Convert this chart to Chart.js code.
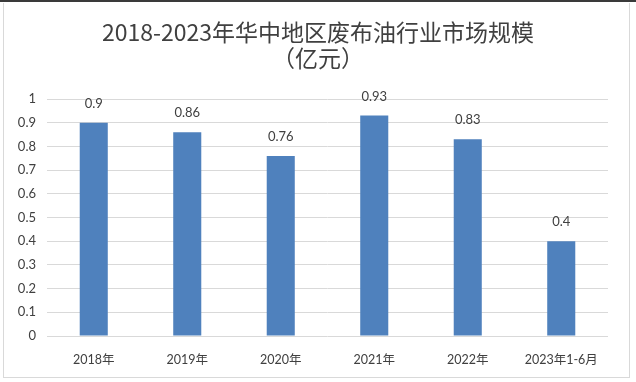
<!DOCTYPE html>
<html>
<head>
<meta charset="utf-8">
<script src="https://cdn.jsdelivr.net/npm/chart.js@4/dist/chart.umd.min.js"></script>
<style>
  html, body { margin: 0; padding: 0; background: #fff; }
  #wrap { position: relative; width: 636px; height: 382px; overflow: hidden; background: #fff; }
  #topline { position: absolute; left: 0; top: 0; width: 636px; height: 2px; background: #3a3a3a; }
  #frame { position: absolute; left: 3px; top: 3px; width: 627px; height: 375px; border: 1px solid #d9d9d9; box-sizing: border-box; border-top: none; }
  canvas { position: absolute; left: 0; top: 0; }
</style>
</head>
<body>
<div id="wrap">
  <canvas id="c" width="636" height="382"></canvas>
  <div id="topline"></div>
  <div id="frame"></div>
</div>
<script>
const categories = ['2018年', '2019年', '2020年', '2021年', '2022年', '2023年1-6月'];
const values = [0.9, 0.86, 0.76, 0.93, 0.83, 0.4];
const yTicks = [0, 0.1, 0.2, 0.3, 0.4, 0.5, 0.6, 0.7, 0.8, 0.9, 1];
const titleLines = ['2018-2023年华中地区废布油行业市场规模', '（亿元）'];

const FONT = "Lato, 'Noto Sans CJK SC', sans-serif";

const labelPlugin = {
  id: 'valueLabels',
  afterDatasetsDraw(chart) {
    const ctx = chart.ctx;
    const meta = chart.getDatasetMeta(0);
    ctx.save();
    ctx.font = "13px " + FONT;
    ctx.fillStyle = '#404040';
    ctx.textAlign = 'center';
    ctx.textBaseline = 'middle';
    meta.data.forEach((bar, i) => {
      ctx.fillText(String(values[i]), bar.x, bar.y - 19);
    });
    ctx.restore();
  }
};

const centeredTitle = {
  id: 'centeredTitle',
  afterDraw(chart) {
    const ctx = chart.ctx;
    ctx.save();
    ctx.font = "23px 'Noto Sans CJK SC', sans-serif";
    ctx.fillStyle = '#404040';
    ctx.textAlign = 'center';
    ctx.textBaseline = 'middle';
    const cx = chart.width / 2;
    titleLines.forEach((t, i) => ctx.fillText(t, cx, 32 + i * 26));
    ctx.restore();
  }
};

new Chart(document.getElementById('c'), {
  type: 'bar',
  data: {
    labels: categories,
    datasets: [{
      data: values,
      backgroundColor: '#4f81bd',
      borderWidth: 0,
      barPercentage: 0.3,
      categoryPercentage: 1.0
    }]
  },
  options: {
    responsive: false,
    animation: false,
    devicePixelRatio: 1,
    layout: { padding: { left: 0, right: 28, top: 99, bottom: 0 } },
    plugins: {
      legend: { display: false },
      tooltip: { enabled: false },
      title: { display: false }
    },
    scales: {
      x: {
        grid: { display: false },
        border: { display: false },
        ticks: { color: '#404040', font: { family: FONT, size: 12.5 }, padding: 8, maxRotation: 0, autoSkip: false },
        afterFit(scale) { scale.height = 46; }
      },
      y: {
        min: 0, max: 1,
        afterBuildTicks(scale) { scale.ticks = yTicks.map(v => ({ value: v })); },
        grid: { color: '#d9d9d9', lineWidth: 1, drawTicks: false },
        border: { display: false },
        ticks: {
          color: '#404040',
          font: { family: FONT, size: 13 },
          padding: 11,
          callback: v => String(Math.round(v * 10) / 10)
        },
        afterFit(scale) { scale.width = 47; }
      }
    }
  },
  plugins: [labelPlugin, centeredTitle]
});
</script>
</body>
</html>
